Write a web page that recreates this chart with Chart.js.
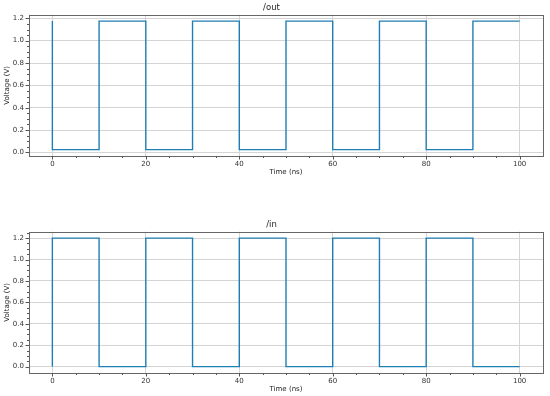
<!DOCTYPE html>
<html><head><meta charset="utf-8">
<script src="https://cdn.jsdelivr.net/npm/chart.js@4"></script>
<style>
html,body{margin:0;padding:0;background:#fff;width:550px;height:396px;overflow:hidden}
.box{position:absolute;left:0;width:550px;height:180px}
canvas{display:block}
</style></head><body>
<div class="box" style="top:0"><canvas id="c1" width="550" height="180"></canvas></div>
<div class="box" style="top:217px"><canvas id="c2" width="550" height="180"></canvas></div>
<script>
const outTimes=[0,0,10,20,30,40,50,60,70,80,90,100];
const outVolts=[1.175,0.025,1.175,0.025,1.175,0.025,1.175,0.025,1.175,0.025,1.175,1.175];
const inTimes=[0,0,10,20,30,40,50,60,70,80,90,100];
const inVolts=[0,1.2,0,1.2,0,1.2,0,1.2,0,1.2,0,0];
const xMajorTicks=[0,20,40,60,80,100];
const yMajorTicks=[0,0.2,0.4,0.6,0.8,1.0,1.2];

const FONT='DejaVu Sans';
const frameTicks={
  id:'frameTicks',
  afterDraw(chart){
    const {ctx,chartArea:a,scales:{x,y}}=chart;
    ctx.save();
    ctx.strokeStyle='#666';ctx.lineWidth=1;
    ctx.strokeRect(Math.round(a.left)+0.5,Math.round(a.top)+0.5,Math.round(a.right-a.left),Math.round(a.bottom-a.top));
    ctx.strokeStyle='#555';
    ctx.beginPath();
    for(let v=-5;v<=105;v+=5){
      const px=Math.round(x.getPixelForValue(v))+0.5;
      if(px<=a.left+1||px>=a.right-1)continue;
      const len=(v%20===0)?3.5:2;
      ctx.moveTo(px,a.bottom);ctx.lineTo(px,a.bottom+len);
    }
    for(let i=-2;i<=26;i++){
      const v=i*0.05;
      const py=Math.round(y.getPixelForValue(v))+0.5;
      if(py<=a.top+1||py>=a.bottom-1)continue;
      const len=(i%4===0)?3.5:2;
      ctx.moveTo(a.left,py);ctx.lineTo(a.left-len,py);
    }
    ctx.stroke();
    ctx.restore();
  }
};

function makeChart(id,title,times,volts,yMin,yMax){
  const pts=times.map((t,i)=>({x:t,y:volts[i]}));
  return new Chart(document.getElementById(id),{
    type:'line',
    data:{datasets:[{data:pts,borderColor:'#1f7fb4',borderWidth:1.4,pointRadius:0,stepped:'before',fill:false,tension:0}]},
    options:{
      responsive:false,animation:false,
      layout:{padding:{left:0,right:7,top:0,bottom:0}},
      plugins:{
        legend:{display:false},tooltip:{enabled:false},
        title:{display:true,text:title,color:'#222',font:{family:FONT,size:8.5,weight:'normal'},padding:{top:3,bottom:1.5}}
      },
      scales:{
        x:{type:'linear',min:-5,max:105,
          afterBuildTicks:s=>{s.ticks=xMajorTicks.map(v=>({value:v}));},
          afterFit:s=>{s.height=24;},
          grid:{color:'#d4d4d4',lineWidth:1,drawTicks:false},
          border:{display:false},
          ticks:{color:'#333',font:{family:FONT,size:7},padding:4,maxRotation:0,callback:v=>String(v)},
          title:{display:true,text:'Time (ns)',color:'#222',font:{family:FONT,size:7},padding:{top:0,bottom:4}}
        },
        y:{type:'linear',min:yMin,max:yMax,
          afterBuildTicks:s=>{s.ticks=yMajorTicks.map(v=>({value:v}));},
          afterFit:s=>{s.width=29;},
          grid:{color:'#d4d4d4',lineWidth:1,drawTicks:false},
          border:{display:false},
          ticks:{color:'#333',font:{family:FONT,size:7},padding:5,callback:v=>Number(v).toFixed(1)},
          title:{display:true,text:'Voltage (V)',color:'#222',font:{family:FONT,size:7},padding:{top:3,bottom:0}}
        }
      }
    },
    plugins:[frameTicks]
  });
}
makeChart('c1','/out',outTimes,outVolts,-0.0325,1.2325);
makeChart('c2','/in',inTimes,inVolts,-0.06,1.26);
</script>
</body></html>
